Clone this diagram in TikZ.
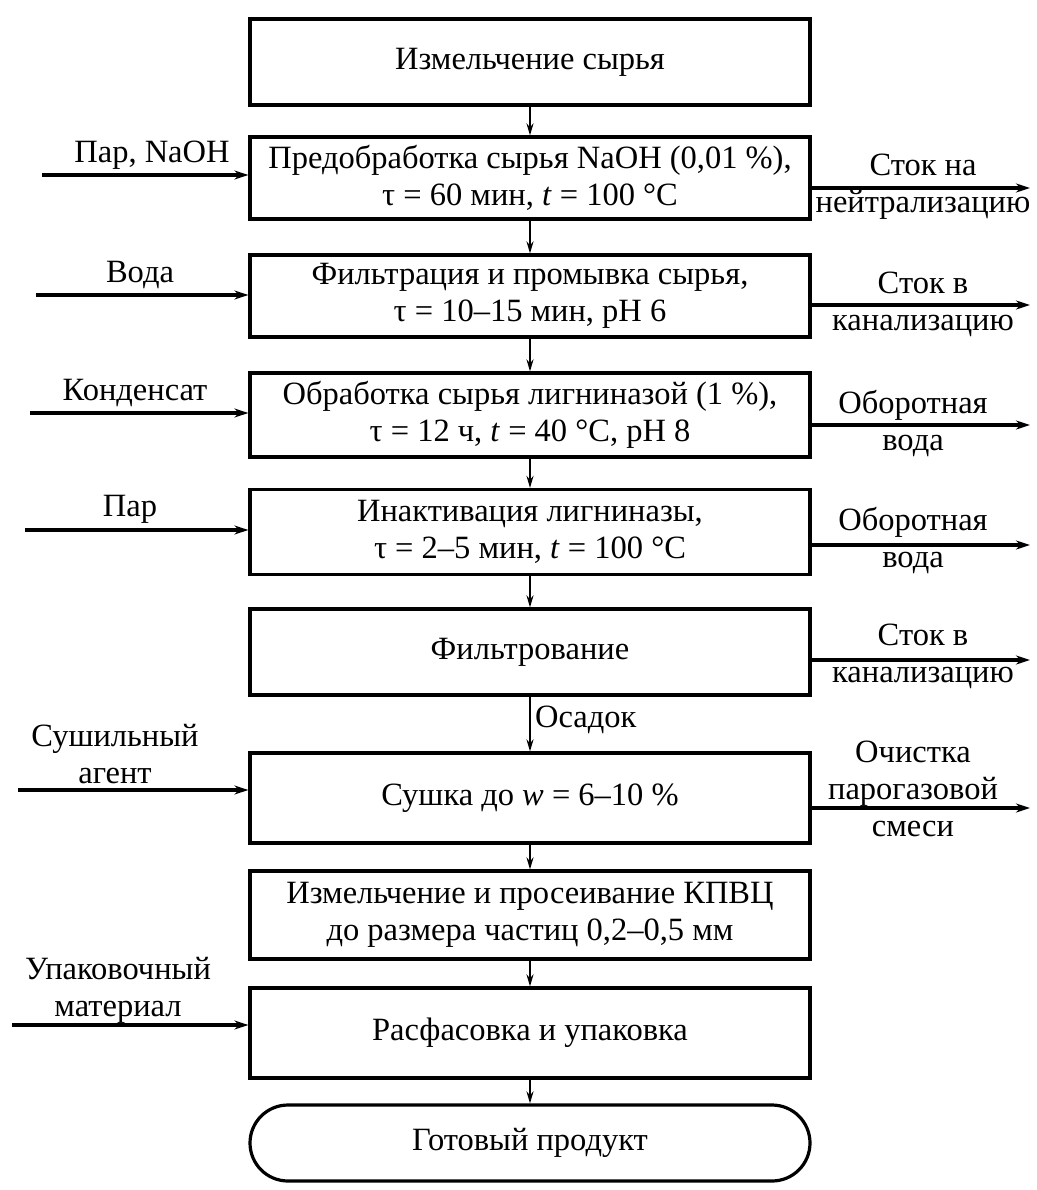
\documentclass[tikz,border=0pt]{standalone}
\usepackage{fontspec}
\setmainfont{Liberation Serif}
\usetikzlibrary{arrows.meta}
\begin{document}
\begin{tikzpicture}[x=1pt,y=-1pt,
  font=\fontsize{32.5}{37}\selectfont,
  box/.style={draw,line width=3.2pt,minimum width=560pt,align=center,inner sep=2pt},
  lab/.style={align=center,inner sep=0pt},
  flow/.style={line width=3.2pt,-{Stealth[length=14pt,width=9pt]}},
  link/.style={line width=2.6pt,-{Stealth[length=12pt,width=7pt]}}]
\useasboundingbox (0,0) rectangle (1036,1190);
% process boxes
\node[box,minimum height=86pt] (b1) at (530,62) {Измельчение сырья};
\node[box,minimum height=82pt] (b2) at (530,178) {Предобработка сырья NaOH (0,01 \%),\\ τ = 60 мин, \textit{t} = 100 °C};
\node[box,minimum height=82pt] (b3) at (530,296) {Фильтрация и промывка сырья,\\ τ = 10–15 мин, pH 6};
\node[box,minimum height=84pt] (b4) at (530,415) {Обработка сырья лигниназой (1 \%),\\ τ = 12 ч, \textit{t} = 40 °C, pH 8};
\node[box,minimum height=85pt] (b5) at (530,532) {Инактивация лигниназы,\\ τ = 2–5 мин, \textit{t} = 100 °C};
\node[box,minimum height=86pt] (b6) at (530,652) {Фильтрование};
\node[box,minimum height=90pt] (b7) at (530,798) {Сушка до \textit{w} = 6–10 \%};
\node[box,minimum height=88pt] (b8) at (530,915) {Измельчение и просеивание КПВЦ\\ до размера частиц 0,2–0,5 мм};
\node[box,minimum height=90pt] (b9) at (530,1033) {Расфасовка и упаковка};
\node[box,minimum height=76pt,rounded corners=38pt] (b10) at (530,1143) {Готовый продукт};
% main flow
\draw[link] (b1) -- (b2);
\draw[link] (b2) -- (b3);
\draw[link] (b3) -- (b4);
\draw[link] (b4) -- (b5);
\draw[link] (b5) -- (b6);
\draw[link] (b6) -- (b7);
\draw[link] (b7) -- (b8);
\draw[link] (b8) -- (b9);
\draw[link] (b9) -- (b10);
\node[lab,anchor=west] (os) at (535,720) {Осадок};
% inputs
\coordinate (i2) at (42,175);
\coordinate (i3) at (36,295);
\coordinate (i4) at (30,413);
\coordinate (i5) at (25,530);
\coordinate (i7) at (18,790);
\coordinate (i9) at (12,1025);
\draw[flow] (i2) -- (i2 -| b2.west);
\draw[flow] (i3) -- (i3 -| b3.west);
\draw[flow] (i4) -- (i4 -| b4.west);
\draw[flow] (i5) -- (i5 -| b5.west);
\draw[flow] (i7) -- (i7 -| b7.west);
\draw[flow] (i9) -- (i9 -| b9.west);
\node[lab] (l2) at (152,155) {Пар, NaOH};
\node[lab] (l3) at (140,275) {Вода};
\node[lab] (l4) at (135,393) {Конденсат};
\node[lab] (l5) at (130,509) {Пар};
\node[lab] (l7) at (115,754) {Сушильный\\агент};
\node[lab] (l9) at (118,990) {Упаковочный\\материал};
% outputs
\coordinate (o2) at (1030,188);
\coordinate (o3) at (1030,305);
\coordinate (o4) at (1030,425);
\coordinate (o5) at (1030,545);
\coordinate (o6) at (1030,660);
\coordinate (o7) at (1030,808);
\draw[flow] (o2 -| b2.east) -- (o2);
\draw[flow] (o3 -| b3.east) -- (o3);
\draw[flow] (o4 -| b4.east) -- (o4);
\draw[flow] (o5 -| b5.east) -- (o5);
\draw[flow] (o6 -| b6.east) -- (o6);
\draw[flow] (o7 -| b7.east) -- (o7);
\node[lab] (r2) at (923,187) {Сток на\\нейтрализацию};
\node[lab] (r3) at (923,304) {Сток в\\канализацию};
\node[lab] (r4) at (913,424) {Оборотная\\вода};
\node[lab] (r5) at (913,541) {Оборотная\\вода};
\node[lab] (r6) at (923,656) {Сток в\\канализацию};
\node[lab] (r7) at (913,789) {Очистка\\парогазовой\\смеси};
\end{tikzpicture}
\end{document}
